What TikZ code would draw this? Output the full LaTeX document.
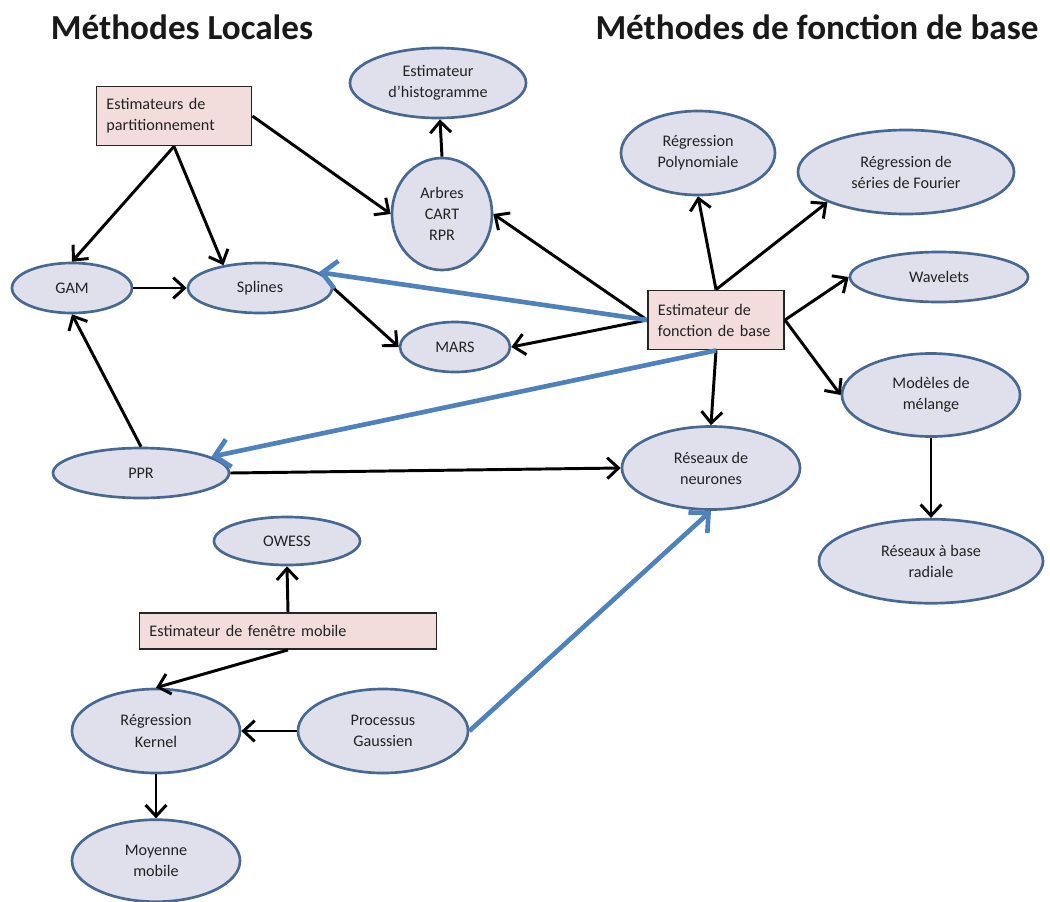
\documentclass[tikz,border=0pt]{standalone}
\usepackage{fontspec}
\setmainfont{Carlito}
\usepackage{xcolor}
\usepackage{tikz}
\usetikzlibrary{positioning,shapes.geometric,arrows.meta}
\definecolor{ellfill}{RGB}{224,224,237}
\definecolor{elldraw}{RGB}{72,104,146}
\definecolor{boxfill}{RGB}{242,221,220}
\definecolor{bluearr}{RGB}{79,129,189}
\definecolor{texte}{RGB}{35,35,35}
\tikzstyle{methode}=[ellipse, draw=elldraw, line width=1.9pt, fill=ellfill, text=texte,
        align=center, inner sep=0pt, font=\fontsize{11.5}{15}\selectfont]
\tikzstyle{estimateur}=[rectangle, draw=black!85, line width=1.3pt, fill=boxfill, text=texte,
        align=left, inner xsep=0.25cm, font=\fontsize{11.5}{15}\selectfont]
\tikzstyle{titre}=[font=\fontsize{25}{30}\selectfont\bfseries, text=black!90]
\tikzstyle{fleche}=[-{Straight Barb[length=2.8mm,width=5.2mm]}, line width=2.1pt]
\tikzstyle{lienbleu}=[-{Straight Barb[length=3.6mm,width=7mm]}, draw=bluearr, line width=3.3pt]

\begin{document}
\begin{tikzpicture}[x=0.025cm, y=-0.025cm, node distance=1cm]
      \useasboundingbox (0,0) rectangle (1050,901);
      % titres
      \node (tLoc) [titre] at (182,27) {Méthodes Locales};
      \node (tBase) [titre] at (817,27) {Méthodes de fonction de base};
      % estimateurs
      \node (part) [estimateur, text width=3.375cm, minimum height=1.475cm] at (174,116)
      {Estimateurs de\\partitionnement};
      \node (fonc) [estimateur, text width=2.9cm, minimum height=1.475cm] at (716,320)
      {Estimateur de\\fonction de base};
      \node (fen) [estimateur, text width=6.925cm, minimum height=0.9cm] at (288,631)
      {Estimateur de fenêtre mobile};
      % methodes
      \node (histo) [methode, minimum width=4.4cm, minimum height=1.75cm] at (438,83)
      {Estimateur\\d'histogramme};
      \node (arb) [methode, minimum width=2.5cm, minimum height=2.8cm] at (442,214)
      {Arbres\\CART\\RPR};
      \node (poly) [methode, minimum width=3.85cm, minimum height=2.1cm] at (698,153)
      {Régression\\Polynomiale};
      \node (fou) [methode, minimum width=5.4cm, minimum height=2.1cm] at (906,172)
      {Régression de\\séries de Fourier};
      \node (wav) [methode, minimum width=4.45cm, minimum height=1.25cm] at (939,277)
      {Wavelets};
      \node (mod) [methode, minimum width=4.45cm, minimum height=2.075cm] at (931,395)
      {Modèles de\\mélange};
      \node (rad) [methode, minimum width=5.6cm, minimum height=2.1cm, below=2cm of mod]
      {Réseaux à base\\radiale};
      \node (neu) [methode, minimum width=4.45cm, minimum height=2.075cm] at (711,468)
      {Réseaux de\\neurones};
      \node (gam) [methode, minimum width=3cm, minimum height=1.25cm] at (72,288)
      {GAM};
      \node (spl) [methode, minimum width=3.6cm, minimum height=1.25cm] at (260,288)
      {Splines};
      \node (mars) [methode, minimum width=2.75cm, minimum height=1.25cm] at (455,347)
      {MARS};
      \node (ppr) [methode, minimum width=4.4cm, minimum height=1.25cm] at (141,473)
      {PPR};
      \node (owe) [methode, minimum width=3.65cm, minimum height=1.2cm] at (287,541)
      {OWESS};
      \node (ker) [methode, minimum width=4.2cm, minimum height=2.1cm] at (156,731)
      {Régression\\Kernel};
      \node (proc) [methode, minimum width=4.25cm, minimum height=2.1cm] at (383,731)
      {Processus\\Gaussien};
      \node (moy) [methode, minimum width=4.2cm, minimum height=2.05cm, below=1.1cm of ker]
      {Moyenne\\mobile};
      % fleches
      \draw [fleche] (part.south) -- (gam.north);
      \draw [fleche] (part.south) -- (spl.148);
      \draw [fleche] (part.east) -- (arb.west);
      \draw [fleche] (arb.north) -- (histo);
      \draw [fleche] (gam.east) -- (spl.west);
      \draw [fleche] (spl.east) -- (mars.west);
      \draw [fleche] (fonc.west) -- (mars.east);
      \draw [fleche] (fonc.west) -- (arb.east);
      \draw [fleche] (fonc.north) -- (poly.south);
      \draw [fleche] (fonc.north) -- (fou.201);
      \draw [fleche] (fonc.east) -- (wav.west);
      \draw [fleche] (fonc.east) -- (mod.west);
      \draw [fleche] (fonc.south) -- (neu.north);
      \draw [fleche] (mod.south) -- (rad.north);
      \draw [fleche] (ppr.north) -- (gam.south);
      \draw [fleche] (ppr.east) -- (neu.west);
      \draw [fleche] (fen.north) -- (owe.south);
      \draw [fleche] (fen.south) -- (ker.north);
      \draw [fleche] (proc.west) -- (ker.east);
      \draw [fleche] (ker.south) -- (moy.north);
      \draw [lienbleu] (fonc.west) -- (spl.15);
      \draw [lienbleu] (fonc.south) -- (ppr.13);
      \draw [lienbleu] (proc.east) -- (neu.south);
\end{tikzpicture}
\end{document}
